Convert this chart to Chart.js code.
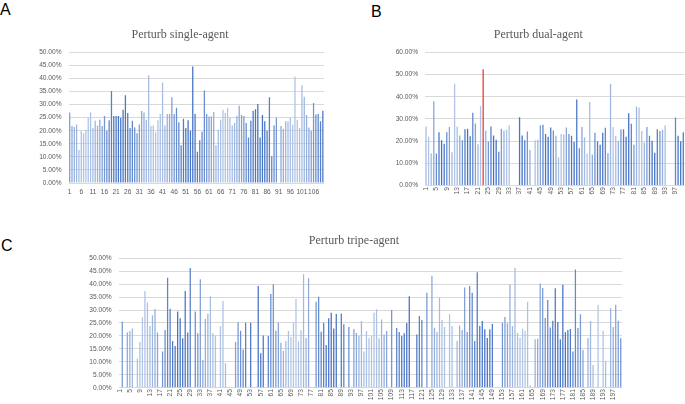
<!DOCTYPE html>
<html>
<head>
<meta charset="utf-8">
<script src="https://cdn.jsdelivr.net/npm/chart.js"></script>
<style>
html, body { margin: 0; padding: 0; background: #fff; overflow: hidden; }
body { width: 685px; height: 404px; position: relative; }
.tag { position: absolute; font-family: "Liberation Sans", Arial, sans-serif; font-size: 16px; line-height: 16px; color: #000; }
canvas { position: absolute; }
</style>
</head>
<body>
<div class="tag" style="left:0px;top:2px">A</div>
<div class="tag" style="left:371px;top:4px">B</div>
<div class="tag" style="left:1px;top:238px">C</div>
<canvas id="chartA" width="340" height="200" style="left:0px;top:0px"></canvas>
<canvas id="chartB" width="360" height="203" style="left:340px;top:0px"></canvas>
<canvas id="chartC" width="685" height="199" style="left:0px;top:205px"></canvas>
<script>
/* values, in percent */
var singleAgent = [
  27.0, 21.8, 21.4, 22.4, 12.6, 19.8, 19.0, 20.4, 25.0, 27.0,
  21.0, 23.8, 22.0, 24.2, 21.8, 25.6, 20.0, 24.0, 35.2, 25.6,
  25.6, 25.6, 25.0, 28.0, 33.6, 26.8, 21.0, 23.8, 21.2, 19.0,
  22.4, 27.5, 27.0, 24.2, 41.2, 21.8, 22.0, 19.4, 24.0, 26.4,
  38.4, 22.0, 26.4, 26.4, 32.8, 26.4, 28.8, 23.2, 14.4, 24.6,
  21.0, 24.0, 20.0, 44.6, 26.4, 12.0, 16.4, 19.6, 35.4, 26.4,
  25.4, 25.4, 27.2, 14.4, 20.4, 24.2, 28.0, 26.8, 28.8, 25.0,
  22.0, 23.0, 25.6, 29.6, 26.0, 25.6, 23.0, 17.4, 23.8, 27.6,
  28.2, 30.2, 17.4, 26.0, 23.6, 20.0, 32.8, 10.2, 22.0, 25.0,
  null, 21.8, 20.8, 23.6, 23.6, 25.0, 22.4, 40.6, 24.2, 21.0,
  37.4, 33.0, 26.0, 21.2, 20.0, 30.6, 26.2, 26.4, 23.6, 27.6
];

var dualAgent = [
  26.6, 22.0, 14.6, 38.0, 14.4, 24.0, 20.4, 18.8, 24.0, 26.4,
  15.0, 45.8, 26.6, 22.6, 20.4, 25.4, 25.6, 22.2, 32.8, 28.0,
  18.6, 35.8, 52.4, 24.8, 19.8, 26.6, 22.6, 20.6, 15.2, 25.6,
  24.8, 25.2, 27.0, null, null, null, 30.8, 22.6, 20.4, 24.4,
  16.0, null, 20.4, 20.6, 27.2, 27.4, 23.2, 22.0, 26.2, 24.8,
  22.4, 12.6, 23.2, 23.0, 26.2, 23.2, 22.4, 19.6, 38.8, 16.8,
  26.4, 21.8, 14.4, 37.6, 14.0, 23.8, 20.0, 18.4, 23.8, 26.0,
  14.6, 45.8, 26.4, 22.4, 20.2, 25.2, 25.4, 22.0, 32.6, 27.8,
  18.4, 35.6, 35.2, 24.6, 19.4, 26.4, 22.4, 20.2, 14.8, 25.4,
  24.6, 25.0, 27.0, null, null, null, 30.6, 22.4, 20.0, 24.0
];
var dualHighlight = 23; // the red bar

var tripeAgent = [
  null, 25.6, null, 21.3, 21.9, 22.9, null, 11.3, 17.7, 27.2,
  37.4, 32.9, 23.8, 28.0, 30.4, 21.3, null, 14.0, 22.3, 42.5,
  30.5, 18.0, 16.1, 29.4, 26.8, 19.1, 37.4, 21.3, 46.3, null,
  29.4, 21.0, 41.9, 10.7, 26.5, 28.6, 35.3, 21.0, 20.1, null,
  23.7, 33.5, 9.4, null, null, null, 17.7, 25.3, 22.0, 14.8,
  25.1, null, 25.1, null, null, 39.3, 13.3, 20.2, null, 20.0,
  36.2, 40.0, 22.0, 25.1, 17.4, 14.2, 18.0, 21.9, 19.6, 25.3,
  34.3, 17.9, 22.2, 43.8, 19.2, 42.3, null, null, 33.2, 35.1,
  21.6, 25.1, 16.5, 26.8, 29.0, 22.9, 28.5, null, 28.7, 24.5,
  null, 23.5, null, 22.7, 21.1, 20.0, 25.8, 14.0, 21.9, 19.2,
  20.0, 29.0, 30.3, 19.1, 26.4, 20.6, 21.9, null, 30.0, null,
  23.1, 21.5, 20.0, 21.0, 25.0, 35.3, null, null, 20.6, 27.7,
  26.2, null, 36.7, null, 43.3, 23.2, 21.5, 34.8, 26.2, 23.5,
  null, 28.4, 23.8, null, 18.0, 24.0, 22.3, 38.7, 21.5, 39.3,
  36.7, 18.0, 44.6, 23.8, 25.8, 22.6, 19.2, 22.6, 24.6, null,
  null, null, 25.1, 27.3, 24.9, 39.9, 23.8, 46.3, 21.1, 19.3,
  22.8, 22.0, 33.2, 0.9, null, 18.7, 18.9, 40.3, 38.5, 26.9,
  33.9, 23.3, 25.9, 38.4, 25.4, 18.7, 39.8, 21.4, 22.3, 22.7,
  14.0, 45.7, 23.1, 28.4, 14.6, null, 19.2, 25.8, 8.8, null,
  32.0, null, 22.0, 10.4, null, 30.8, 23.5, 32.1, 25.9, 19.1
];

/* category names are just the run numbers 1..n */
function numbered(n) {
  var out = [];
  for (var i = 1; i <= n; i++) out.push(String(i));
  return out;
}
var catsA = numbered(singleAgent.length);
var catsB = numbered(dualAgent.length);
var catsC = numbered(tripeAgent.length);

// excel "vary colours by point" monochrome blues
function shade(i, period, phase) {
  var t = 0.5 + 0.5 * Math.cos(2 * Math.PI * (i - phase) / period);
  var r = Math.round(176 - t * 108), g = Math.round(196 - t * 82), b = Math.round(230 - t * 34);
  return 'rgb(' + r + ',' + g + ',' + b + ')';
}
function colourList(n, period, phase) {
  var out = [];
  for (var i = 0; i < n; i++) out.push(shade(i, period, phase));
  return out;
}

var colA = colourList(catsA.length, 30, 22);
var colB = colourList(catsB.length, 10.2, 6);
colB[dualHighlight - 1] = 'rgb(240,60,50)';
var colC = colourList(catsC.length, 30.3, 24);

var tickFont = { family: 'Liberation Sans', size: 6.6 };

function makeChart(id, cats, values, colours, c) {
  return new Chart(document.getElementById(id), {
    type: 'bar',
    data: {
      labels: cats,
      datasets: [{
        data: values,
        backgroundColor: colours,
        barPercentage: c.barPct,
        categoryPercentage: 1.0
      }]
    },
    options: {
      responsive: false,
      animation: false,
      layout: { padding: { left: c.padL, right: c.padR, top: 0, bottom: 0 } },
      plugins: {
        legend: { display: false },
        tooltip: { enabled: false },
        title: {
          display: true,
          text: c.title,
          color: '#595959',
          font: { family: 'Liberation Serif', size: 12, weight: 'normal' },
          padding: { top: c.titleTop, bottom: c.titleBottom }
        }
      },
      scales: {
        x: {
          grid: { display: false, drawTicks: false },
          border: { display: false },
          ticks: {
            autoSkip: false,
            minRotation: c.rot,
            maxRotation: c.rot,
            padding: c.xPad,
            color: '#595959',
            font: tickFont,
            callback: function (v, i) { return i % c.step === 0 ? this.getLabelForValue(v) : ''; }
          },
          afterFit: function (s) { s.height = c.xHeight; }
        },
        y: {
          min: 0,
          max: c.yMax,
          grid: { color: '#d9d9d9', drawTicks: false },
          border: { display: false },
          ticks: {
            stepSize: c.yStep,
            padding: c.yPad,
            color: '#595959',
            font: tickFont,
            callback: function (v) { return v.toFixed(2) + '%'; }
          },
          afterFit: function (s) { s.width = c.yWidth; }
        }
      }
    }
  });
}

var chartA = makeChart('chartA', catsA, singleAgent, colA, {
  title: 'Perturb single-agent', padL: 36, padR: 16, yWidth: 32.5, yPad: 7,
  titleTop: 27.8, titleBottom: 10.1, xHeight: 17, xPad: 5, rot: 0, step: 5,
  yMax: 50, yStep: 5, barPct: 0.55
});

var chartB = makeChart('chartB', catsB, dualAgent, colB, {
  title: 'Perturb dual-agent', padL: 52, padR: 15.4, yWidth: 32.7, yPad: 6.7,
  titleTop: 27.3, titleBottom: 10.6, xHeight: 17.4, xPad: 1.5, rot: 90, step: 4,
  yMax: 60, yStep: 10, barPct: 0.5
});

var chartC = makeChart('chartC', catsC, tripeAgent, colC, {
  title: 'Perturb tripe-agent', padL: 86, padR: 63, yWidth: 32.5, yPad: 6.8,
  titleTop: 28.8, titleBottom: 10.1, xHeight: 16.3, xPad: 1.5, rot: 90, step: 4,
  yMax: 50, yStep: 5, barPct: 0.5
});
</script>
</body>
</html>
